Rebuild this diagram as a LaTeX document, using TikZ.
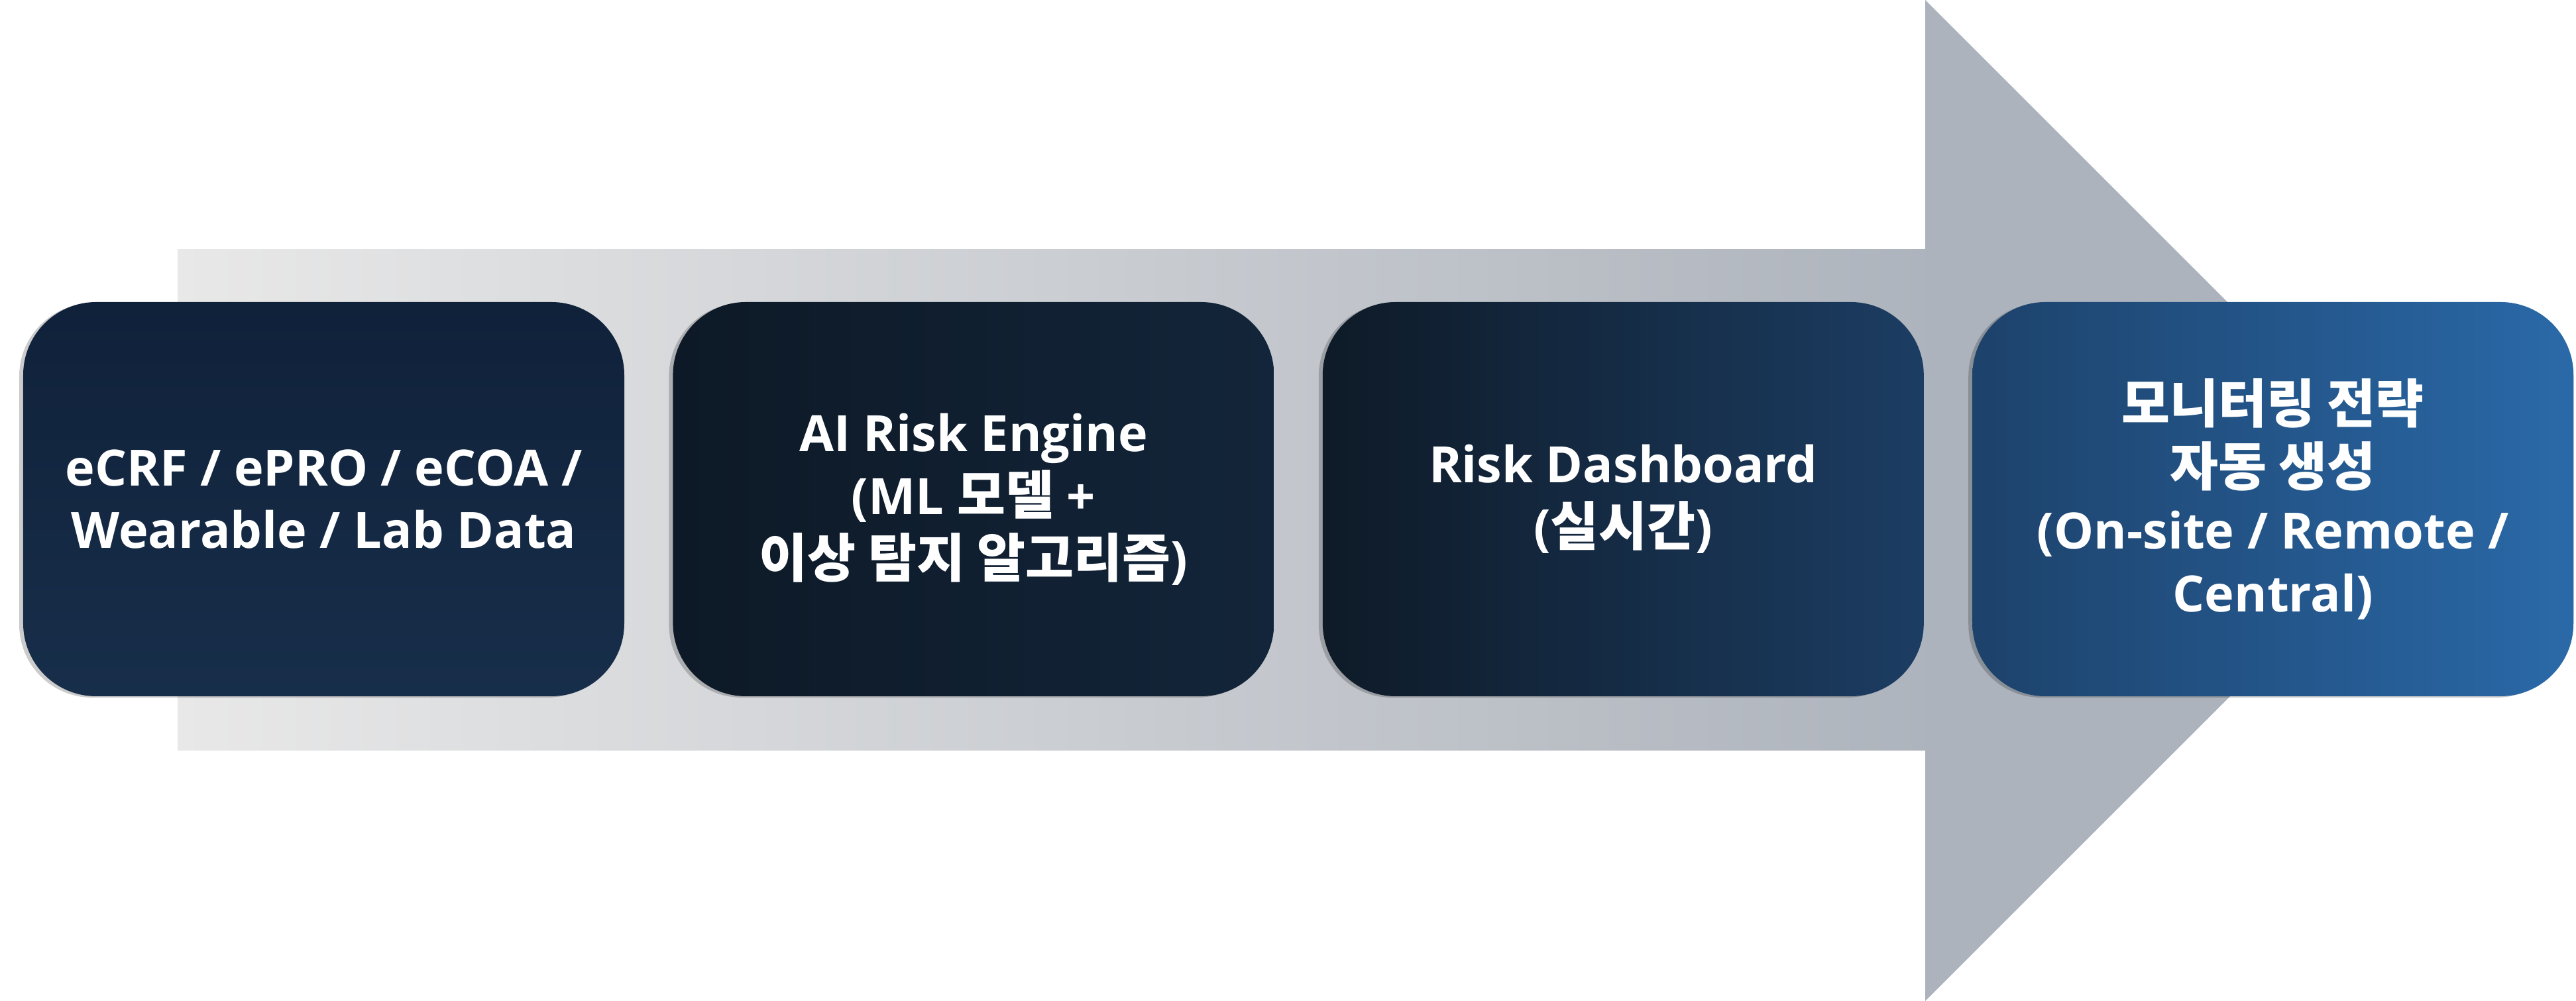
\documentclass[tikz,border=0pt]{standalone}
\usepackage{fontspec}
\setmainfont{Open Sans}
\newfontfamily\krfont[Scale=1.05]{Noto Sans CJK KR}
\newcommand\hangul[1]{{\krfont #1}}
\usetikzlibrary{positioning,shadows}
\definecolor{shaftleft}{HTML}{E8E8E8}
\definecolor{shaftright}{HTML}{AEB4BD}
\definecolor{headgray}{HTML}{ACB3BD}
\definecolor{dataA}{HTML}{10213A}
\definecolor{dataB}{HTML}{172E4A}
\definecolor{engineA}{HTML}{0D1926}
\definecolor{engineB}{HTML}{13253A}
\definecolor{boardA}{HTML}{0E1A27}
\definecolor{boardB}{HTML}{1C3D63}
\definecolor{planA}{HTML}{1D426B}
\definecolor{planB}{HTML}{2A69A8}

\begin{document}
\begin{tikzpicture}[stage/.style={rounded corners=1.1cm, minimum width=9.07cm, minimum height=5.95cm, inner sep=0pt, text=white, align=center, font=\bfseries\fontsize{21.5}{27}\selectfont, drop shadow={shadow xshift=-0.06cm, shadow yshift=-0.02cm, opacity=0.2, fill=black}}]
\useasboundingbox (0,0) rectangle (38.87,15.11);
\shade[left color=shaftleft, right color=shaftright] (2.68,3.78) rectangle (29.05,11.34);
\fill[headgray] (29.05,0) -- (29.05,15.11) -- (36.605,7.555) -- cycle;
\node[stage, top color=dataA, bottom color=dataB] (data) at (4.885,7.575) {eCRF / ePRO / eCOA /\\Wearable / Lab Data};
\node[stage, left color=engineA, right color=engineB, right=0.72cm of data] (engine) {AI Risk Engine\\(ML \hangul{모델} +\\\hangul{이상 탐지 알고리즘})};
\node[stage, left color=boardA, right color=boardB, right=0.72cm of engine] (board) {Risk Dashboard\\(\hangul{실시간})};
\node[stage, left color=planA, right color=planB, right=0.72cm of board] (plan) {\hangul{모니터링 전략}\\\hangul{자동 생성}\\(On-site / Remote /\\Central)};
\end{tikzpicture}
\end{document}
